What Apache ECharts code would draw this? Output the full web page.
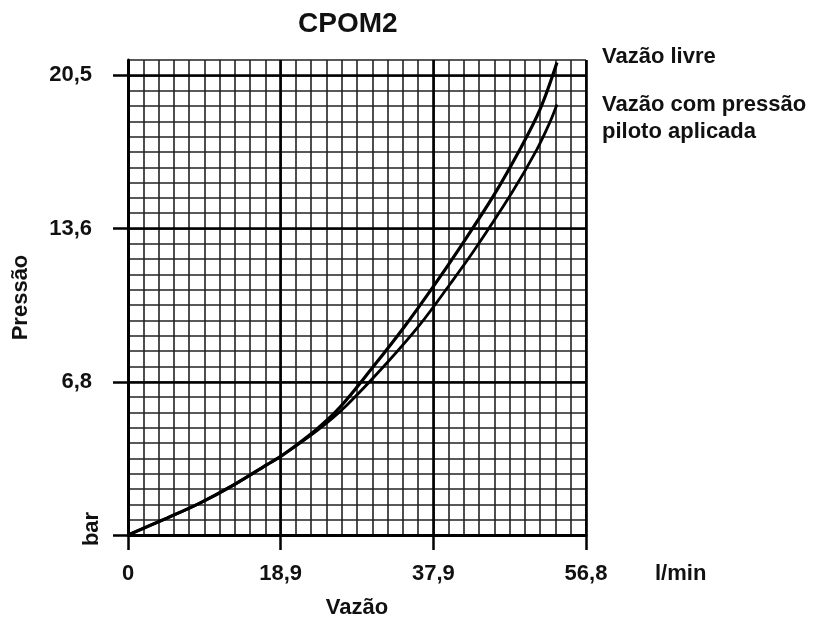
<!DOCTYPE html>
<html>
<head>
<meta charset="utf-8">
<title>CPOM2</title>
<script src="https://cdn.jsdelivr.net/npm/echarts@6/dist/echarts.min.js"></script>
<style>
  html, body { margin: 0; padding: 0; background: #fff; }
  #chart { width: 822px; height: 619px; }
</style>
</head>
<body>
<div id="chart"></div>
<script>
  // eixos (l/min e bar)
  var xMax = 56.8
  var yTop = 20.5
  var xTickLabels = ['0', '18,9', '37,9', '56,8']
  var yTickLabels = ['', '6,8', '13,6', '20,5']

  // curva: vazao livre
  var livreVazao = [0, 4.8, 8.9, 13.1, 17.2, 19.2, 23.4, 26.3, 30.4, 34.3, 37.9, 41.0, 45.3, 48.6, 51.1, 53.2]
  var livrePressao = [0, 0.75, 1.42, 2.23, 3.13, 3.57, 4.72, 5.7, 7.5, 9.3, 11.1, 12.73, 15.11, 17.19, 18.98, 21.07]

  // curva: vazao com pressao piloto aplicada
  var pilotoVazao = [0, 4.8, 8.9, 13.1, 17.2, 19.2, 23.4, 27.1, 32.1, 36.2, 39.9, 43.0, 47.6, 50.7, 52.3, 53.2]
  var pilotoPressao = [0, 0.75, 1.42, 2.23, 3.13, 3.57, 4.64, 5.78, 7.67, 9.38, 11.17, 12.73, 15.26, 17.19, 18.39, 19.2]

  var fonte = '"Liberation Sans", Arial, sans-serif'
  var xStep = xMax / 3
  var yStep = yTop / 3
  var yMax = yTop + yStep / 10

  function pares (xs, ys) {
    return xs.map(function (v, i) { return [v, ys[i]] })
  }

  function rotulo (lista, step) {
    return function (value) {
      var i = Math.round(value / step)
      if (Math.abs(value - i * step) > 1e-6 || i >= lista.length) return ''
      return lista[i]
    }
  }

  var chart = echarts.init(document.getElementById('chart'))

  chart.setOption({
    animation: false,
    title: {
      text: 'CPOM2',
      left: 293,
      top: 5,
      textStyle: { fontFamily: fonte, fontSize: 28, fontWeight: 'bold', color: '#111' }
    },
    grid: { left: 128, right: 236, top: 60, bottom: 84, outerBoundsMode: 'none', containLabel: false },
    xAxis: [{
      type: 'value',
      min: 0,
      max: xMax,
      interval: xStep,
      name: 'Vazão',
      nameLocation: 'middle',
      nameGap: 62,
      nameTextStyle: { fontFamily: fonte, fontSize: 22, fontWeight: 'bold', color: '#111' },
      axisLine: { show: true, lineStyle: { color: '#000', width: 3 } },
      axisTick: { show: true, length: 15, lineStyle: { color: '#000', width: 2.5 } },
      axisLabel: {
        margin: 28,
        fontFamily: fonte,
        fontSize: 22,
        fontWeight: 'bold',
        color: '#111',
        formatter: rotulo(xTickLabels, xStep)
      },
      splitLine: { show: true, lineStyle: { color: '#000', width: 2.6 } },
      z: 3
    }, {
      type: 'value',
      min: 0,
      max: xMax,
      interval: xStep / 10,
      position: 'bottom',
      axisLine: { show: false },
      axisTick: { show: false },
      axisLabel: { show: false },
      splitLine: { show: true, lineStyle: { color: '#222', width: 1.6 } },
      z: 1
    }],
    yAxis: [{
      type: 'value',
      min: 0,
      max: yMax,
      interval: yStep,
      name: 'Pressão',
      nameLocation: 'middle',
      nameGap: 96,
      nameTextStyle: { fontFamily: fonte, fontSize: 22, fontWeight: 'bold', color: '#111' },
      axisLine: { show: true, lineStyle: { color: '#000', width: 3 } },
      axisTick: {
        show: true,
        length: 15,
        customValues: [0, yStep, yStep * 2, yTop],
        lineStyle: { color: '#000', width: 2.5 }
      },
      axisLabel: {
        margin: 36,
        fontFamily: fonte,
        fontSize: 22,
        fontWeight: 'bold',
        color: '#111',
        formatter: rotulo(yTickLabels, yStep)
      },
      splitLine: { show: true, lineStyle: { color: '#000', width: 2.6 } },
      z: 3
    }, {
      type: 'value',
      min: 0,
      max: yMax,
      interval: yStep / 10,
      position: 'left',
      axisLine: { show: false },
      axisTick: { show: false },
      axisLabel: { show: false },
      splitLine: { show: true, lineStyle: { color: '#222', width: 1.6 } },
      z: 1
    }],
    series: [{
      name: 'Vazão livre',
      type: 'line',
      xAxisIndex: 0,
      yAxisIndex: 0,
      smooth: 0.35,
      symbol: 'none',
      lineStyle: { color: '#000', width: 3.2 },
      data: pares(livreVazao, livrePressao),
      z: 5
    }, {
      name: 'Vazão com pressão piloto aplicada',
      type: 'line',
      xAxisIndex: 0,
      yAxisIndex: 0,
      smooth: 0.35,
      symbol: 'none',
      lineStyle: { color: '#000', width: 2.8 },
      data: pares(pilotoVazao, pilotoPressao),
      z: 5
    }],
    graphic: [{
      type: 'text',
      left: 602,
      top: 46,
      style: { text: 'Vazão livre', font: 'bold 22px ' + fonte, fill: '#111' }
    }, {
      type: 'text',
      left: 602,
      top: 91,
      style: { text: 'Vazão com pressão\npiloto aplicada', font: 'bold 22px ' + fonte, lineHeight: 27, fill: '#111' }
    }, {
      type: 'text',
      left: 655,
      top: 563,
      style: { text: 'l/min', font: 'bold 22px ' + fonte, fill: '#111' }
    }, {
      type: 'text',
      x: 92,
      y: 529,
      rotation: Math.PI / 2,
      style: { text: 'bar', font: 'bold 22px ' + fonte, fill: '#111', align: 'center', verticalAlign: 'middle' }
    }]
  })
</script>
</body>
</html>
